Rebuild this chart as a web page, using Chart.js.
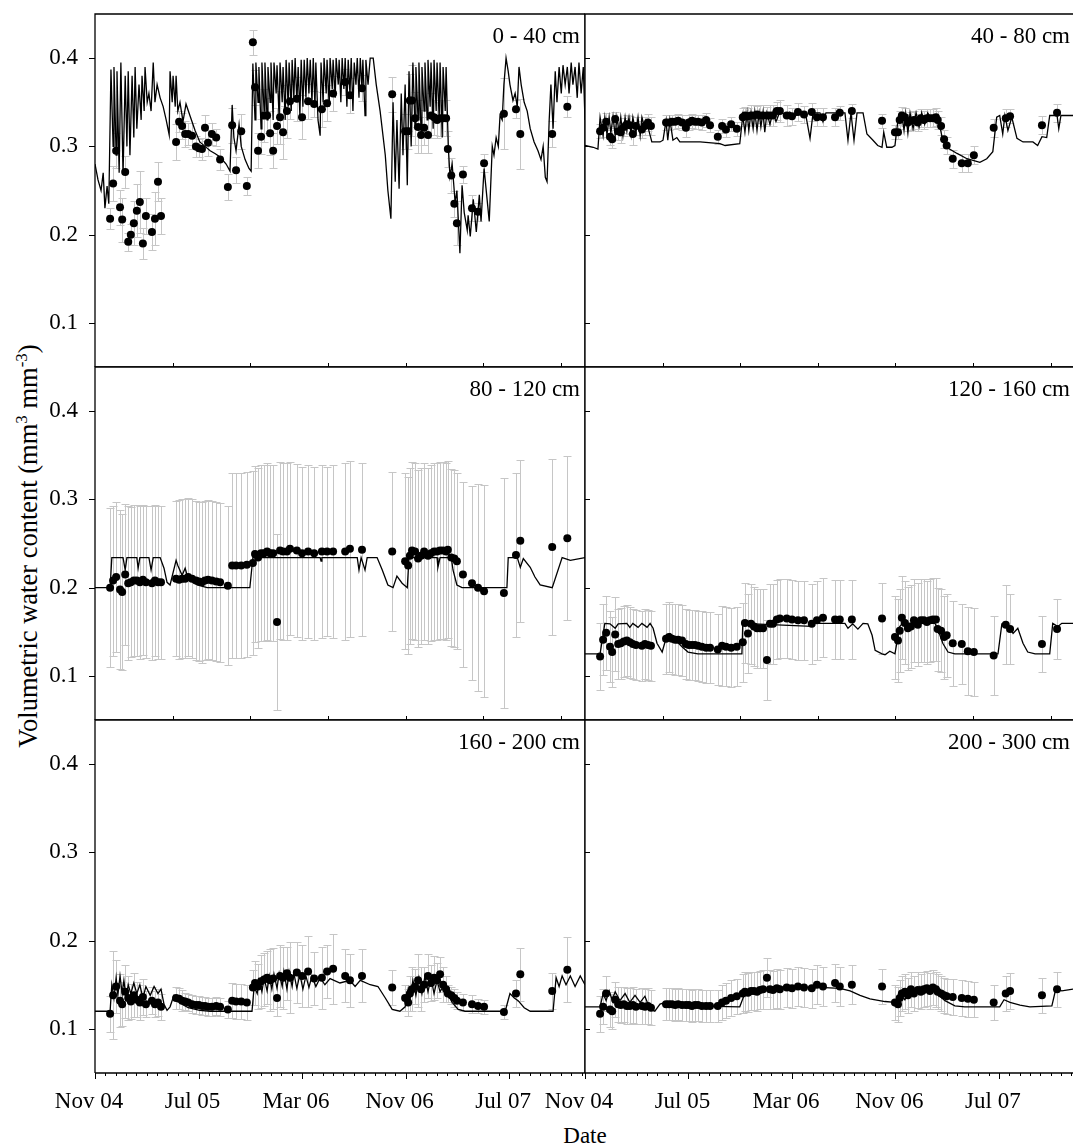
<!DOCTYPE html>
<html>
<head>
<meta charset="utf-8">
<script src="https://cdn.jsdelivr.net/npm/chart.js@4.4.1/dist/chart.umd.min.js"></script>
<style>
  html, body { margin: 0; padding: 0; background: #fff; }
  #fig { position: relative; width: 1073px; height: 1147px; overflow: hidden;
         font-family: 'Liberation Serif', 'Times New Roman', serif; color: #000; }
  #fig canvas { position: absolute; }
  #ytitle { position: absolute; left: 28px; top: 546px; font-size: 26.5px; line-height: 1;
            white-space: nowrap; transform: translate(-50%, -50%) rotate(-90deg); }
  #ytitle sup { font-size: 17px; vertical-align: 10px; line-height: 0; }
  #xtitle { position: absolute; left: 585px; top: 1124px; font-size: 23px; line-height: 1;
            transform: translateX(-50%); }
</style>
</head>
<body>
<div id="fig">
  <div id="ytitle">Volumetric water content (mm<sup>3</sup> mm<sup>-3</sup>)</div>
  <div id="xtitle">Date</div>
</div>
<script>
// x values are days counted from the "Nov 04" tick
const yTicks = [0.1, 0.2, 0.3, 0.4];
const majorDays = [0, 240, 480, 720, 960];
const tickLabels = ['Nov 04', 'Jul 05', 'Mar 06', 'Nov 06', 'Jul 07'];
const MINOR_STEP = 24;   // bottom axis minor ticks
const INNER_STEP = 180;  // inner ticks on the upper rows

// measurement dates shared by all depths
const obsDays = [35,42,49,58,63,70,77,83,90,97,
  104,111,118,132,139,146,153,188,195,202,
  209,216,225,234,241,248,255,262,271,281,
  290,308,318,327,339,352,366,371,378,385,
  392,399,406,413,422,429,436,445,452,468,
  480,494,508,526,538,552,580,591,619,689,
  719,726,730,735,742,749,756,763,772,779,
  786,793,800,807,814,818,826,833,839,853,
  874,888,902,948,976,986,1060,1095];

// ---- 0 - 40 cm
const obs0_40 = [0.218,0.258,0.295,0.231,0.217,0.271,0.192,0.200,0.213,0.227,
  0.237,0.190,0.221,0.203,0.218,0.260,0.221,0.305,0.328,0.323,
  0.314,0.314,0.312,0.300,0.298,0.297,0.321,0.304,0.314,0.310,
  0.285,0.254,0.324,0.273,0.317,0.255,0.418,0.367,0.295,0.311,
  0.335,0.335,0.315,0.295,0.323,0.333,0.316,0.340,0.351,0.354,
  0.333,0.351,0.348,0.342,0.349,0.360,0.373,0.358,0.366,0.359,
  0.317,0.317,0.352,0.352,0.332,0.322,0.313,0.321,0.313,0.335,
  0.333,0.330,0.332,0.332,0.332,0.297,0.267,0.235,0.213,0.268,
  0.230,0.226,0.281,0.337,0.342,0.314,0.314,0.345];
const err0_40 = [0.012,0.02,0.02,0.02,0.025,0.018,0.01,0.012,0.025,0.03,
  0.035,0.018,0.02,0.02,0.03,0.022,0.02,0.02,0.012,0.015,
  0.015,0.012,0.015,0.012,0.01,0.012,0.015,0.015,0.012,0.01,
  0.012,0.015,0.02,0.015,0.02,0.01,0.014,0.02,0.02,0.02,
  0.03,0.02,0.025,0.02,0.02,0.03,0.03,0.03,0.02,0.025,
  0.025,0.02,0.015,0.02,0.02,0.02,0.015,0.02,0.015,0.02,
  0.02,0.02,0.03,0.04,0.03,0.03,0.02,0.02,0.02,0.025,
  0.02,0.02,0.02,0.02,0.02,0.02,0.02,0.015,0.025,0.01,
  0.015,0.01,0.01,0.04,0.01,0.04,0.015,0.012];
const modDays0_40 = [0,7,14,19,23,28,32,37,42,44,
  49,51,56,60,65,70,74,77,81,86,
  90,93,97,102,107,109,114,116,121,125,
  130,135,139,144,151,158,165,172,174,179,
  181,186,188,192,197,204,211,220,232,243,
  255,267,278,290,304,313,318,322,327,334,
  339,348,357,362,366,371,373,378,380,385,
  387,392,394,399,401,406,408,413,415,420,
  422,427,429,434,436,441,443,448,450,455,
  457,461,464,468,471,475,478,482,485,489,
  492,496,499,503,506,510,512,517,522,524,
  529,531,536,538,543,545,550,552,557,559,
  564,566,570,573,577,580,584,587,591,594,
  598,601,605,608,612,615,619,621,626,628,
  633,638,645,652,661,673,679,686,691,696,
  700,705,710,714,719,724,728,733,737,742,
  744,749,751,756,758,763,765,770,772,777,
  779,784,786,791,793,798,800,805,807,812,
  814,819,823,828,835,839,846,851,856,863,
  865,870,877,884,891,895,902,914,921,925,
  930,935,939,944,948,953,958,962,969,974,
  979,983,988,995,1002,1009,1018,1027,1034,1039,
  1044,1048,1053,1057,1062,1067,1071,1076,1081,1085,
  1090,1095,1099,1104,1108,1113,1118,1122,1127,1132,
  1136];
const mod0_40 = [0.280,0.262,0.250,0.270,0.230,0.255,0.235,0.387,0.300,0.390,
  0.290,0.385,0.270,0.395,0.268,0.380,0.300,0.385,0.290,0.380,
  0.310,0.390,0.320,0.370,0.330,0.380,0.340,0.390,0.350,0.360,
  0.340,0.395,0.350,0.370,0.355,0.345,0.330,0.313,0.385,0.350,
  0.380,0.345,0.380,0.340,0.350,0.328,0.348,0.335,0.318,0.305,
  0.300,0.295,0.292,0.288,0.280,0.272,0.347,0.310,0.295,0.325,
  0.300,0.285,0.275,0.272,0.394,0.330,0.395,0.350,0.390,0.320,
  0.395,0.340,0.395,0.330,0.390,0.350,0.395,0.330,0.395,0.360,
  0.392,0.330,0.395,0.350,0.390,0.330,0.398,0.345,0.395,0.340,
  0.398,0.355,0.400,0.350,0.390,0.335,0.398,0.345,0.398,0.355,
  0.400,0.360,0.398,0.350,0.400,0.345,0.395,0.330,0.312,0.395,
  0.350,0.400,0.360,0.398,0.345,0.400,0.365,0.398,0.355,0.400,
  0.370,0.398,0.350,0.400,0.365,0.400,0.345,0.398,0.360,0.400,
  0.340,0.395,0.370,0.400,0.355,0.400,0.365,0.398,0.335,0.398,
  0.370,0.400,0.400,0.370,0.340,0.290,0.250,0.218,0.350,0.260,
  0.330,0.252,0.360,0.290,0.370,0.256,0.385,0.300,0.395,0.320,
  0.390,0.330,0.395,0.315,0.390,0.340,0.395,0.330,0.398,0.345,
  0.395,0.320,0.398,0.340,0.395,0.330,0.395,0.310,0.390,0.340,
  0.390,0.300,0.266,0.280,0.236,0.250,0.179,0.256,0.225,0.205,
  0.222,0.198,0.240,0.203,0.245,0.215,0.275,0.215,0.300,0.290,
  0.310,0.300,0.335,0.330,0.370,0.400,0.385,0.370,0.352,0.360,
  0.345,0.390,0.370,0.350,0.340,0.320,0.305,0.295,0.285,0.300,
  0.265,0.260,0.330,0.370,0.320,0.385,0.350,0.390,0.360,0.392,
  0.370,0.390,0.360,0.395,0.370,0.390,0.355,0.395,0.360,0.390,
  0.330];

// ---- 40 - 80 cm
const obs40_80 = [0.317,0.321,0.328,0.311,0.308,0.331,0.317,0.316,0.322,0.325,
  0.324,0.314,0.323,0.319,0.323,0.327,0.323,0.327,0.327,0.328,
  0.328,0.329,0.327,0.321,0.327,0.329,0.328,0.328,0.327,0.330,
  0.324,0.311,0.323,0.319,0.325,0.320,0.333,0.335,0.334,0.335,
  0.335,0.336,0.335,0.335,0.335,0.335,0.335,0.340,0.340,0.335,
  0.334,0.339,0.336,0.339,0.333,0.333,0.333,0.338,0.340,0.329,
  0.316,0.316,0.330,0.335,0.333,0.327,0.329,0.330,0.327,0.332,
  0.330,0.332,0.332,0.332,0.333,0.330,0.323,0.308,0.301,0.286,
  0.281,0.281,0.290,0.321,0.332,0.334,0.324,0.338];
const err40_80 = [0.008,0.01,0.01,0.01,0.01,0.008,0.01,0.012,0.01,0.01,
  0.01,0.012,0.01,0.01,0.01,0.01,0.01,0.008,0.008,0.008,
  0.008,0.008,0.008,0.01,0.008,0.008,0.008,0.008,0.008,0.008,
  0.008,0.008,0.008,0.008,0.008,0.008,0.01,0.01,0.01,0.012,
  0.012,0.01,0.012,0.012,0.01,0.012,0.012,0.01,0.012,0.012,
  0.01,0.01,0.01,0.01,0.01,0.01,0.01,0.008,0.008,0.008,
  0.008,0.008,0.01,0.01,0.01,0.01,0.01,0.01,0.01,0.01,
  0.01,0.01,0.01,0.01,0.01,0.01,0.01,0.01,0.01,0.01,
  0.01,0.01,0.01,0.01,0.01,0.008,0.01,0.01];
const modDays40_80 = [0,19,30,35,42,46,51,56,60,65,
  70,74,79,83,88,93,97,102,107,111,
  118,123,128,132,139,146,155,174,181,188,
  192,197,204,213,220,267,313,325,359,366,
  371,376,380,385,390,394,399,404,408,413,
  417,422,429,436,443,452,464,475,487,499,
  512,522,529,545,552,559,591,603,610,617,
  624,631,645,654,668,679,689,693,700,712,
  719,726,735,740,744,749,754,761,768,775,
  781,788,795,805,814,819,828,839,863,886,
  916,932,946,955,962,969,974,981,990,1002,
  1016,1039,1050,1060,1071,1078,1095,1099,1104,1132];
const mod40_80 = [0.301,0.299,0.297,0.333,0.312,0.333,0.313,0.333,0.315,0.334,
  0.312,0.333,0.316,0.333,0.312,0.333,0.318,0.333,0.313,0.333,
  0.315,0.333,0.312,0.333,0.320,0.322,0.305,0.305,0.307,0.329,
  0.307,0.330,0.307,0.310,0.305,0.305,0.303,0.301,0.303,0.335,
  0.316,0.338,0.318,0.338,0.320,0.339,0.318,0.338,0.322,0.339,
  0.316,0.338,0.325,0.339,0.328,0.339,0.336,0.339,0.334,0.339,
  0.336,0.309,0.338,0.338,0.328,0.338,0.338,0.338,0.307,0.338,
  0.307,0.338,0.338,0.314,0.307,0.301,0.299,0.316,0.299,0.299,
  0.301,0.330,0.337,0.318,0.337,0.315,0.338,0.320,0.338,0.322,
  0.338,0.325,0.338,0.330,0.335,0.333,0.311,0.299,0.292,0.286,
  0.282,0.286,0.294,0.333,0.335,0.314,0.335,0.318,0.333,0.309,
  0.305,0.305,0.301,0.311,0.310,0.335,0.335,0.320,0.335,0.335];

// ---- 80 - 120 cm
const obs80_120 = [0.200,0.208,0.212,0.198,0.195,0.215,0.205,0.206,0.208,0.208,
  0.206,0.209,0.206,0.205,0.208,0.206,0.206,0.210,0.209,0.210,
  0.210,0.212,0.210,0.208,0.207,0.206,0.208,0.209,0.208,0.207,
  0.206,0.202,0.225,0.225,0.225,0.226,0.228,0.238,0.234,0.239,
  0.239,0.241,0.239,0.239,0.161,0.242,0.241,0.241,0.244,0.242,
  0.239,0.241,0.239,0.241,0.241,0.241,0.241,0.244,0.243,0.241,
  0.230,0.225,0.236,0.242,0.241,0.233,0.236,0.241,0.236,0.239,
  0.241,0.241,0.242,0.242,0.241,0.243,0.234,0.233,0.230,0.215,
  0.205,0.200,0.196,0.194,0.237,0.253,0.246,0.256];
const err80_120 = [0.09,0.085,0.085,0.09,0.088,0.08,0.087,0.085,0.086,0.086,
  0.087,0.085,0.086,0.087,0.086,0.087,0.087,0.088,0.09,0.09,
  0.09,0.09,0.09,0.09,0.09,0.091,0.09,0.09,0.09,0.09,
  0.09,0.09,0.105,0.105,0.105,0.105,0.104,0.1,0.102,0.1,
  0.1,0.1,0.1,0.1,0.1,0.1,0.1,0.1,0.098,0.098,
  0.098,0.098,0.098,0.098,0.096,0.098,0.1,0.1,0.098,0.09,
  0.1,0.1,0.1,0.1,0.1,0.1,0.1,0.1,0.1,0.1,
  0.1,0.1,0.1,0.1,0.1,0.1,0.1,0.1,0.1,0.105,
  0.11,0.117,0.12,0.13,0.093,0.092,0.1,0.093];
const modDays80_120 = [0,35,39,65,70,74,97,100,104,125,
  130,135,151,160,167,174,188,192,202,209,
  216,237,260,359,366,522,524,526,608,612,
  617,626,631,654,666,679,691,700,712,724,
  728,793,795,800,826,830,839,851,955,958,
  979,986,993,1009,1020,1032,1060,1083,1102,1136];
const mod80_120 = [0.200,0.200,0.234,0.234,0.220,0.234,0.234,0.222,0.234,0.234,
  0.220,0.234,0.234,0.222,0.206,0.203,0.231,0.225,0.214,0.222,
  0.210,0.203,0.200,0.200,0.234,0.234,0.230,0.234,0.234,0.220,
  0.234,0.220,0.234,0.234,0.220,0.203,0.200,0.213,0.205,0.200,
  0.234,0.234,0.223,0.234,0.234,0.220,0.203,0.200,0.200,0.234,
  0.234,0.223,0.233,0.223,0.212,0.203,0.200,0.234,0.231,0.234];

// ---- 120 - 160 cm
const obs120_160 = [0.122,0.141,0.149,0.133,0.127,0.147,0.136,0.137,0.139,0.140,
  0.138,0.136,0.135,0.134,0.136,0.135,0.134,0.142,0.144,0.142,
  0.141,0.141,0.140,0.136,0.135,0.135,0.135,0.134,0.133,0.132,
  0.132,0.130,0.134,0.133,0.132,0.133,0.138,0.160,0.148,0.159,
  0.156,0.154,0.154,0.154,0.118,0.159,0.159,0.164,0.165,0.165,
  0.164,0.163,0.163,0.159,0.163,0.166,0.164,0.164,0.164,0.165,
  0.144,0.140,0.151,0.166,0.160,0.154,0.156,0.163,0.158,0.163,
  0.163,0.161,0.163,0.164,0.164,0.153,0.151,0.144,0.146,0.137,
  0.136,0.128,0.127,0.123,0.158,0.153,0.136,0.153];
const err120_160 = [0.038,0.04,0.042,0.04,0.04,0.042,0.04,0.04,0.04,0.04,
  0.04,0.04,0.04,0.04,0.04,0.04,0.04,0.04,0.04,0.04,
  0.04,0.04,0.04,0.04,0.04,0.04,0.04,0.04,0.04,0.04,
  0.04,0.04,0.045,0.045,0.045,0.045,0.045,0.045,0.045,0.045,
  0.045,0.045,0.045,0.045,0.045,0.045,0.045,0.045,0.045,0.045,
  0.045,0.045,0.045,0.045,0.045,0.045,0.045,0.045,0.045,0.04,
  0.047,0.047,0.047,0.047,0.047,0.047,0.047,0.047,0.047,0.047,
  0.047,0.047,0.047,0.047,0.047,0.047,0.047,0.047,0.047,0.048,
  0.045,0.05,0.05,0.045,0.045,0.04,0.032,0.034];
const modDays120_160 = [0,35,46,58,70,77,97,104,111,123,
  132,144,151,158,167,179,190,197,209,225,
  239,262,364,366,526,533,603,610,621,633,
  645,656,666,673,689,696,707,719,730,737,
  812,819,830,842,858,958,967,979,993,1004,
  1016,1027,1044,1078,1085,1097,1106,1132];
const mod120_160 = [0.125,0.125,0.1595,0.159,0.154,0.159,0.1595,0.155,0.1595,0.155,
  0.1595,0.155,0.1595,0.154,0.137,0.127,0.146,0.148,0.141,0.133,
  0.127,0.125,0.125,0.1595,0.156,0.1595,0.1595,0.154,0.159,0.153,
  0.1595,0.159,0.146,0.129,0.125,0.124,0.128,0.125,0.156,0.1595,
  0.1595,0.152,0.137,0.127,0.125,0.125,0.159,0.1595,0.148,0.154,
  0.137,0.127,0.125,0.125,0.1595,0.156,0.1595,0.1595];

// ---- 160 - 200 cm
const obs160_200 = [0.117,0.138,0.148,0.132,0.128,0.142,0.135,0.131,0.138,0.133,
  0.130,0.136,0.128,0.132,0.128,0.130,0.125,0.135,0.134,0.132,
  0.131,0.130,0.128,0.127,0.127,0.126,0.126,0.125,0.125,0.126,
  0.125,0.122,0.132,0.131,0.131,0.130,0.147,0.152,0.148,0.154,
  0.156,0.158,0.155,0.157,0.135,0.160,0.158,0.163,0.158,0.164,
  0.160,0.165,0.157,0.158,0.165,0.168,0.160,0.155,0.160,0.147,
  0.135,0.130,0.140,0.145,0.148,0.155,0.145,0.150,0.160,0.152,
  0.158,0.155,0.162,0.150,0.145,0.140,0.138,0.135,0.132,0.130,
  0.128,0.126,0.125,0.119,0.140,0.162,0.143,0.167];
const err160_200 = [0.02,0.05,0.03,0.03,0.025,0.03,0.025,0.02,0.025,0.02,
  0.02,0.02,0.015,0.015,0.015,0.015,0.015,0.012,0.012,0.012,
  0.01,0.01,0.01,0.01,0.01,0.01,0.01,0.01,0.01,0.01,
  0.01,0.01,0.02,0.02,0.02,0.02,0.02,0.025,0.025,0.03,
  0.03,0.03,0.035,0.035,0.02,0.035,0.035,0.03,0.04,0.035,
  0.035,0.04,0.03,0.035,0.03,0.04,0.03,0.03,0.03,0.02,
  0.015,0.015,0.02,0.025,0.02,0.03,0.025,0.02,0.025,0.02,
  0.025,0.02,0.02,0.02,0.015,0.01,0.01,0.01,0.01,0.01,
  0.01,0.008,0.008,0.008,0.015,0.03,0.02,0.037];
const modDays160_200 = [0,35,39,44,49,53,58,63,67,72,
  77,83,90,97,104,111,118,128,137,146,
  153,160,167,174,183,192,202,216,243,267,
  364,369,376,380,387,392,399,404,410,415,
  422,427,434,438,445,450,457,461,468,475,
  482,489,496,503,512,522,533,545,568,591,
  603,615,638,656,673,689,707,719,726,730,
  737,744,751,758,765,772,779,786,793,800,
  809,819,828,842,858,951,962,972,981,995,
  1009,1062,1069,1076,1083,1092,1102,1113,1125,1136];
const mod160_200 = [0.120,0.120,0.150,0.135,0.158,0.138,0.160,0.140,0.155,0.135,
  0.150,0.140,0.152,0.140,0.150,0.135,0.148,0.138,0.148,0.140,
  0.145,0.128,0.121,0.125,0.138,0.136,0.128,0.124,0.121,0.120,
  0.120,0.148,0.140,0.155,0.142,0.158,0.143,0.160,0.145,0.162,
  0.146,0.163,0.148,0.165,0.145,0.165,0.148,0.163,0.146,0.162,
  0.145,0.160,0.147,0.160,0.148,0.158,0.150,0.157,0.152,0.155,
  0.148,0.155,0.150,0.148,0.135,0.122,0.120,0.125,0.145,0.132,
  0.155,0.138,0.158,0.140,0.160,0.142,0.158,0.140,0.155,0.142,
  0.150,0.138,0.130,0.122,0.120,0.120,0.140,0.135,0.132,0.124,
  0.120,0.120,0.158,0.148,0.160,0.150,0.160,0.148,0.160,0.150];

// ---- 200 - 300 cm
const obs200_300 = [0.117,0.125,0.140,0.122,0.120,0.133,0.128,0.127,0.128,0.126,
  0.126,0.127,0.125,0.126,0.125,0.126,0.124,0.128,0.128,0.128,
  0.127,0.128,0.127,0.127,0.127,0.126,0.127,0.127,0.126,0.126,
  0.126,0.126,0.130,0.132,0.135,0.137,0.140,0.142,0.141,0.143,
  0.143,0.142,0.144,0.145,0.158,0.145,0.144,0.146,0.145,0.147,
  0.146,0.148,0.147,0.146,0.150,0.148,0.152,0.148,0.150,0.148,
  0.130,0.128,0.135,0.140,0.142,0.138,0.145,0.140,0.144,0.142,
  0.145,0.146,0.143,0.147,0.145,0.142,0.140,0.138,0.137,0.136,
  0.135,0.134,0.133,0.130,0.140,0.143,0.138,0.145];
const err200_300 = [0.02,0.02,0.02,0.02,0.02,0.02,0.02,0.02,0.02,0.02,
  0.02,0.02,0.02,0.02,0.02,0.02,0.02,0.018,0.018,0.018,
  0.018,0.018,0.018,0.018,0.018,0.018,0.018,0.018,0.018,0.018,
  0.018,0.018,0.02,0.02,0.02,0.02,0.022,0.022,0.022,0.022,
  0.022,0.022,0.022,0.022,0.022,0.022,0.022,0.022,0.022,0.022,
  0.022,0.022,0.022,0.022,0.022,0.022,0.022,0.022,0.022,0.02,
  0.02,0.02,0.02,0.02,0.02,0.02,0.02,0.02,0.02,0.02,
  0.02,0.02,0.02,0.02,0.02,0.02,0.02,0.02,0.02,0.02,
  0.02,0.02,0.02,0.02,0.02,0.02,0.02,0.02];
const modDays200_300 = [0,35,42,49,56,63,70,81,93,104,
  116,128,139,151,162,174,186,209,243,359,
  369,383,406,452,499,545,591,615,638,661,
  696,719,730,742,754,765,777,788,800,816,
  835,858,881,962,972,986,1009,1032,1083,1092,
  1106,1132];
const mod200_300 = [0.125,0.125,0.140,0.132,0.143,0.133,0.142,0.132,0.140,0.130,
  0.138,0.130,0.137,0.122,0.120,0.128,0.130,0.127,0.126,0.125,
  0.138,0.142,0.144,0.146,0.147,0.147,0.146,0.143,0.138,0.134,
  0.131,0.130,0.140,0.133,0.145,0.137,0.148,0.140,0.147,0.140,
  0.132,0.126,0.125,0.125,0.133,0.130,0.127,0.125,0.126,0.145,
  0.143,0.145];

const panels = [
  { label: '0 - 40 cm',    row: 0, col: 0, obs: obs0_40,    err: err0_40,    mx: modDays0_40,    my: mod0_40 },
  { label: '40 - 80 cm',   row: 0, col: 1, obs: obs40_80,   err: err40_80,   mx: modDays40_80,   my: mod40_80 },
  { label: '80 - 120 cm',  row: 1, col: 0, obs: obs80_120,  err: err80_120,  mx: modDays80_120,  my: mod80_120 },
  { label: '120 - 160 cm', row: 1, col: 1, obs: obs120_160, err: err120_160, mx: modDays120_160, my: mod120_160 },
  { label: '160 - 200 cm', row: 2, col: 0, obs: obs160_200, err: err160_200, mx: modDays160_200, my: mod160_200 },
  { label: '200 - 300 cm', row: 2, col: 1, obs: obs200_300, err: err200_300, mx: modDays200_300, my: mod200_300 },
];

// page geometry
const ROW_TOP = [14, 367, 720];
const ROW_H = 353;
const PAD_TOP = 20;
const BOTTOM_SPACE = 62;
const COLS = [
  { canvasLeft: 0,   left: 95,  right: 585,  xMax: 1136 },
  { canvasLeft: 520, left: 585, right: 1073, xMax: 1132 },
];

Chart.defaults.font.family = "'Liberation Serif', 'Times New Roman', serif";
Chart.defaults.font.size = 23;
Chart.defaults.color = '#000';

function panelPlugin(p) {
  return {
    id: 'panelDecor',
    beforeDatasetsDraw(chart) {
      // grey error bars under the line and dots
      const { ctx, chartArea: a, scales: { x, y } } = chart;
      ctx.save();
      ctx.beginPath();
      ctx.rect(a.left, a.top, a.right - a.left, a.bottom - a.top);
      ctx.clip();
      ctx.strokeStyle = '#c6c6c6';
      ctx.lineWidth = 1;
      ctx.beginPath();
      p.obs.forEach((v, i) => {
        if (v == null) return;
        const px = Math.round(x.getPixelForValue(obsDays[i])) + 0.5;
        const hi = Math.round(y.getPixelForValue(v + p.err[i])) + 0.5;
        const lo = Math.round(y.getPixelForValue(v - p.err[i])) + 0.5;
        ctx.moveTo(px, hi); ctx.lineTo(px, lo);
        ctx.moveTo(px - 4, hi); ctx.lineTo(px + 4, hi);
        ctx.moveTo(px - 4, lo); ctx.lineTo(px + 4, lo);
      });
      ctx.stroke();
      ctx.restore();
    },
    afterDraw(chart) {
      const { ctx, chartArea: a, scales: { x, y } } = chart;
      ctx.save();
      ctx.strokeStyle = '#000';
      ctx.lineWidth = 1.3;
      ctx.beginPath();
      ctx.moveTo(a.left, a.bottom); ctx.lineTo(a.left, a.top); ctx.lineTo(a.right, a.top);
      if (p.col === 0) ctx.lineTo(a.right, a.bottom);
      ctx.moveTo(a.left, a.bottom); ctx.lineTo(a.right, a.bottom);
      ctx.stroke();

      ctx.lineWidth = 1;
      ctx.beginPath();
      yTicks.forEach(v => {
        const py = Math.round(y.getPixelForValue(v)) + 0.5;
        if (p.col === 0) { ctx.moveTo(a.left - 6, py); ctx.lineTo(a.left, py); }
        else { ctx.moveTo(a.left, py); ctx.lineTo(a.left + 5, py); }
      });
      if (p.row === 2) {
        for (let d = 0; d <= x.max; d += MINOR_STEP) {
          const px = Math.round(x.getPixelForValue(d)) + 0.5;
          const len = majorDays.includes(d) ? 6 : 3;
          ctx.moveTo(px, a.bottom); ctx.lineTo(px, a.bottom + len);
        }
      } else {
        for (let d = INNER_STEP; d < x.max; d += INNER_STEP) {
          const px = Math.round(x.getPixelForValue(d)) + 0.5;
          ctx.moveTo(px, a.bottom); ctx.lineTo(px, a.bottom - 4);
        }
      }
      ctx.stroke();

      ctx.font = "23px 'Liberation Serif', 'Times New Roman', serif";
      ctx.fillStyle = '#000';
      ctx.textAlign = 'right';
      ctx.textBaseline = 'alphabetic';
      ctx.fillText(p.label, a.right - (p.col === 0 ? 5 : 3), a.top + 29);
      ctx.restore();
    }
  };
}

const fig = document.getElementById('fig');

panels.forEach(p => {
  const c = COLS[p.col];
  const bottomRow = p.row === 2;
  const w = c.right - c.canvasLeft;
  const h = PAD_TOP + ROW_H + (bottomRow ? BOTTOM_SPACE : 0);
  const cv = document.createElement('canvas');
  cv.width = w; cv.height = h;
  cv.style.width = w + 'px'; cv.style.height = h + 'px';
  cv.style.left = c.canvasLeft + 'px';
  cv.style.top = (ROW_TOP[p.row] - PAD_TOP) + 'px';
  fig.appendChild(cv);

  const points = obsDays.map((d, i) => (p.obs[i] == null ? null : { x: d, y: p.obs[i] })).filter(Boolean);
  const model = p.mx.map((d, i) => ({ x: d, y: p.my[i] }));

  new Chart(cv, {
    type: 'scatter',
    data: {
      datasets: [
        { data: points, pointRadius: 4, pointBackgroundColor: '#000', pointBorderWidth: 0, showLine: false },
        { type: 'line', data: model, borderColor: '#000', borderWidth: 1.3, pointRadius: 0, fill: false, tension: 0 },
      ]
    },
    options: {
      responsive: false,
      animation: false,
      devicePixelRatio: 1,
      events: [],
      layout: { padding: { top: PAD_TOP, left: 0, right: 0, bottom: 0 }, autoPadding: false },
      plugins: { legend: { display: false }, tooltip: { enabled: false }, title: { display: false } },
      scales: {
        x: {
          type: 'linear', min: 0, max: c.xMax,
          afterBuildTicks: s => { s.ticks = majorDays.map(v => ({ value: v })); },
          afterFit: s => { s.height = bottomRow ? BOTTOM_SPACE : 0; s.paddingLeft = 0; s.paddingRight = 0; },
          grid: { display: false, drawTicks: false },
          border: { display: false },
          ticks: {
            display: bottomRow, padding: 15, labelOffset: -6, maxRotation: 0, autoSkip: false,
            callback: v => tickLabels[majorDays.indexOf(v)]
          }
        },
        y: {
          type: 'linear', min: 0.05, max: 0.45,
          afterBuildTicks: s => { s.ticks = yTicks.map(v => ({ value: v })); },
          afterFit: s => { s.width = c.left - c.canvasLeft; s.paddingTop = 0; s.paddingBottom = 0; },
          grid: { display: false, drawTicks: false },
          border: { display: false },
          ticks: { display: p.col === 0, padding: 17, callback: v => v.toFixed(1) }
        }
      }
    },
    plugins: [panelPlugin(p)]
  });
});
</script>
</body>
</html>
